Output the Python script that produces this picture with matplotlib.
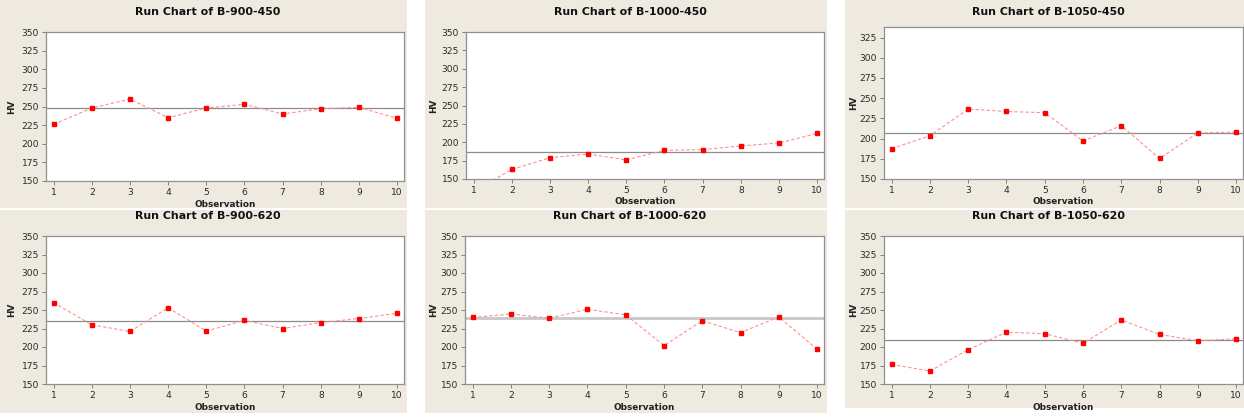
import matplotlib
matplotlib.use("Agg")
import matplotlib.pyplot as plt
from matplotlib.patches import Rectangle
import numpy as np

observations = [1, 2, 3, 4, 5, 6, 7, 8, 9, 10]
titles = ["B-900-450", "B-1000-450", "B-1050-450",
          "B-900-620", "B-1000-620", "B-1050-620"]
b900_450 = [226, 248, 260, 235, 248, 253, 240, 247, 249, 234]
b1000_450 = [133, 163, 179, 184, 176, 189, 190, 195, 199, 212]
b1050_450 = [187.5, 203.5, 236.5, 233.5, 232, 197, 216, 175.5, 207, 208]
b900_620 = [260, 230, 221, 253, 221.5, 236, 225, 233, 238.5, 245.5]
b1000_620 = [240, 244.5, 239, 251, 243.5, 202, 235.5, 219.5, 240.5, 197]
b1050_620 = [176.5, 167.5, 196.5, 220, 218, 205, 236.5, 217, 208.5, 211]
series = [b900_450, b1000_450, b1050_450, b900_620, b1000_620, b1050_620]
y_ticks = [150, 175, 200, 225, 250, 275, 300, 325, 350]

W, H = 1244, 417
BEIGE = "#eeeae0"

fig = plt.figure(figsize=(W / 100, H / 100), dpi=100)
fig.patch.set_facecolor("white")

def box(l, t, r, b):
    # pixels -> coordonnees figure
    return [l / W, 1 - b / H, (r - l) / W, (b - t) / H]

# fonds beiges des 6 panneaux (gauche, haut, droite, bas)
panels = [(0, 0, 407, 208), (425, 0, 827, 208), (845, 0, 1244, 208),
          (0, 210, 407, 413), (425, 210, 827, 413), (845, 210, 1244, 408)]
# zones de trace
areas = [(46, 32, 404, 181), (466, 32, 824, 179), (884, 27, 1243, 179),
         (46, 236, 404, 384), (465, 236, 824, 384), (884, 236, 1243, 384)]
ytop = [350, 350, 338, 350, 350, 350]

for i in range(6):
    pl, pt, pr, pb = panels[i]
    fig.add_artist(Rectangle((pl / W, 1 - pb / H), (pr - pl) / W, (pb - pt) / H,
                             transform=fig.transFigure, facecolor=BEIGE,
                             edgecolor="none", zorder=0))

    ax = fig.add_axes(box(*areas[i]))
    ax.set_facecolor("white")
    data = series[i]
    med = np.median(data)

    # ligne mediane (plus epaisse et claire sur B-1000-620 comme sur l'original)
    if i == 4:
        ax.axhline(med, color="#c8c8c8", lw=2.0, zorder=1)
    else:
        ax.axhline(med, color="#8c8c8c", lw=0.9, zorder=1)

    ax.plot(observations, data, color="#ff8f8f", lw=0.8, ls=(0, (3, 2)),
            marker="s", markersize=3, markerfacecolor="#ff0000",
            markeredgecolor="#ff0000", zorder=3)

    ax.set_xlim(0.8, 10.18)
    ax.set_ylim(150, ytop[i])
    ax.set_xticks(observations)
    ax.set_yticks([t for t in y_ticks if t <= ytop[i]])
    ax.tick_params(axis="both", direction="out", length=3, width=0.7,
                   color="#808080", labelsize=6.6, labelcolor="#2a2a2a", pad=2)
    for sp in ax.spines.values():
        sp.set_color("#909090")
        sp.set_linewidth(0.9)

    al, at, ar, ab = areas[i]
    title_y = 12 if i < 3 else 216
    # titre centre sur le panneau
    fig.text(((pl + pr) / 2 + 4) / W, 1 - title_y / H, "Run Chart of " + titles[i],
             ha="center", va="center", fontsize=7.9, fontweight="bold", color="#111111")
    fig.text(((al + ar) / 2) / W, 1 - (ab + 23) / H, "Observation",
             ha="center", va="center", fontsize=6.4, fontweight="bold", color="#222222")
    fig.text((pl + 12) / W if i % 3 == 0 else (pl + 9) / W, 1 - ((at + ab) / 2) / H, "HV",
             ha="center", va="center", rotation=90, fontsize=6.4,
             fontweight="bold", color="#222222")

fig.savefig("out.png", dpi=100, facecolor=fig.get_facecolor())
